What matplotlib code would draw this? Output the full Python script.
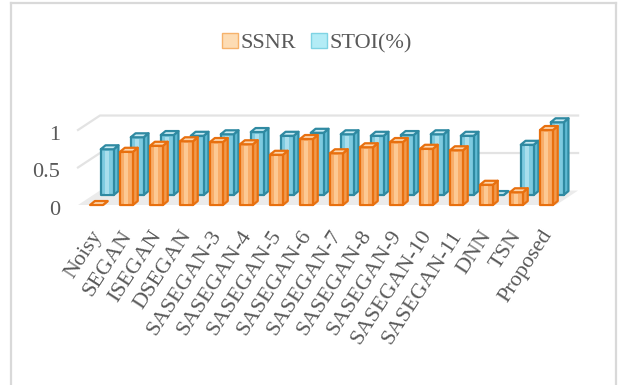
import matplotlib
matplotlib.use("Agg")
import matplotlib.pyplot as plt
from matplotlib.patches import Polygon, Rectangle, Patch
from matplotlib.lines import Line2D

# data
methods = ["Noisy", "SEGAN", "ISEGAN", "DSEGAN", "SASEGAN-3", "SASEGAN-4",
           "SASEGAN-5", "SASEGAN-6", "SASEGAN-7", "SASEGAN-8", "SASEGAN-9",
           "SASEGAN-10", "SASEGAN-11", "DNN", "TSN", "Proposed"]
ssnr = [0.0, 0.71, 0.79, 0.85, 0.84, 0.81, 0.67, 0.88, 0.69, 0.77, 0.84,
        0.75, 0.73, 0.27, 0.17, 1.0]
stoi = [0.61, 0.77, 0.80, 0.79, 0.81, 0.84, 0.79, 0.83, 0.81, 0.79, 0.80,
        0.81, 0.79, 0.0, 0.67, 0.97]
y_ticks = [0, 0.5, 1]
y_tick_labels = ["0", "0.5", "1"]

TEXT = "#595959"
GRID = "#e3e3e3"
FONT = "Liberation Serif"
FS = 16

# pseudo-3D geometry (category units / value units)
BAR_W = 0.43
DEPTH = (0.16, 0.053)      # bar depth offset
ROW2 = (0.357, 0.133)      # back row (STOI) offset
WALL = (0.733, 0.193)      # back wall offset
X0, X1 = -0.617, 15.32     # floor front edge

STYLES = {
    "ssnr": dict(face="#f9ad69", inner="#fcc994", side="#f29a4c",
                 top="#fdd6ad", edge="#e8700f"),
    "stoi": dict(face="#7ecbe0", inner="#a9deec", side="#5fbad3",
                 top="#c9ebf4", edge="#2f8aa2"),
}


def draw_bar(ax, x, h, base, st, z):
    dx, dy = DEPTH
    l, r = x - BAR_W / 2, x + BAR_W / 2
    kw = dict(edgecolor=st["edge"], linewidth=1.6, joinstyle="round", zorder=z)
    ax.add_patch(Polygon([(r, base), (r + dx, base + dy), (r + dx, base + h + dy),
                          (r, base + h)], closed=True, facecolor=st["side"], **kw))
    if h > 0:
        ax.add_patch(Rectangle((l, base), BAR_W, h, facecolor=st["face"], **kw))
        ax.add_patch(Rectangle((l + BAR_W * 0.3, base + 0.02), BAR_W * 0.3,
                               max(h - 0.04, 0), facecolor=st["inner"],
                               edgecolor="none", zorder=z + 0.01))
    ax.add_patch(Polygon([(l, base + h), (r, base + h), (r + dx, base + h + dy),
                          (l + dx, base + h + dy)], closed=True,
                         facecolor=st["top"], **kw))


fig = plt.figure(figsize=(6.19, 3.85), dpi=100)
ax = fig.add_axes([0, 0, 1, 1])
ax.set_xlim(-96.5 / 30, (619 - 96.5) / 30)
ax.set_ylim(-180 / 75, 205 / 75)
ax.axis("off")

# chart frame
for xs, ys in [([11, 11], [0, 382]), ([11, 616], [382, 382]), ([616, 616], [0, 382])]:
    fig.add_artist(Line2D([v / 619 for v in xs], [v / 385 for v in ys],
                          color="#d9d9d9", linewidth=1.6))

# floor and back-wall gridlines
wx, wy = WALL
ax.add_patch(Polygon([(X0, 0), (X1, 0), (X1 + wx, wy), (X0 + wx, wy)], closed=True,
                     facecolor="#ebebeb", edgecolor="none", zorder=1))
for t in y_ticks[1:]:
    ax.plot([X0, X0 + wx, X1 + wx], [t, t + wy, t + wy], color=GRID,
            linewidth=1.6, zorder=1)
for t, lab in zip(y_ticks, y_tick_labels):
    ax.text(X0 - 0.6, t - 0.07, lab, ha="right", va="center", fontsize=FS,
            color=TEXT, family=FONT)

# bars: back row first, then front row
for i, v in enumerate(stoi):
    draw_bar(ax, i + ROW2[0], v, ROW2[1], STYLES["stoi"], 2)
for i, v in enumerate(ssnr):
    draw_bar(ax, i, v, 0, STYLES["ssnr"], 3)

# category labels
for i, name in enumerate(methods):
    ax.text(i + 0.05, -0.36, name, rotation=57, rotation_mode="anchor",
            ha="right", va="center", fontsize=FS, color=TEXT, family=FONT)

handles = [Patch(facecolor="#fddcb4", edgecolor="#f6b26b", label="SSNR"),
           Patch(facecolor="#b3ecf6", edgecolor="#7fd3e3", label="STOI(%)")]
leg = fig.legend(handles=handles, loc="center", bbox_to_anchor=(0.512, 0.888),
                 ncol=2, frameon=False, handlelength=0.7, handleheight=0.7,
                 handletextpad=0.1, columnspacing=0.7,
                 prop={"family": FONT, "size": FS})
for t in leg.get_texts():
    t.set_color(TEXT)

fig.savefig("out.png", dpi=100)
